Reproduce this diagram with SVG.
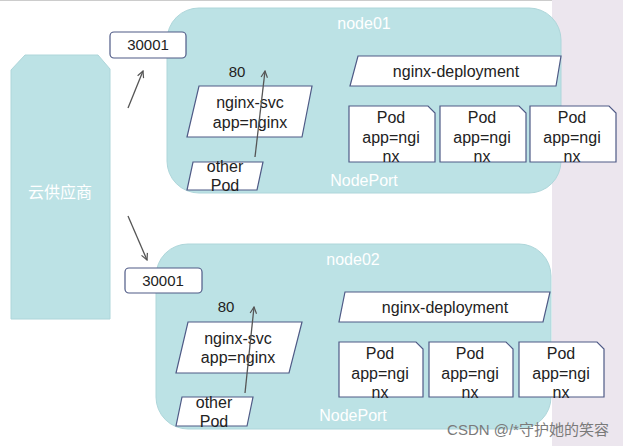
<svg xmlns="http://www.w3.org/2000/svg" width="623" height="446" viewBox="0 0 623 446">
<style>
text{font-family:"Liberation Sans",Arial,sans-serif;font-size:16px;fill:#222;text-anchor:middle}
.w{fill:#ffffff}
.node{fill:#bce2e5;stroke:#aed6da;stroke-width:1}
.shape{fill:#ffffff;stroke:#4f5a86;stroke-width:1.2}
.conn{stroke:#555;stroke-width:1.3;fill:none;marker-end:url(#ah)}
</style>
<defs>
<marker id="ah" viewBox="0 0 10 10" refX="9" refY="5" markerWidth="8" markerHeight="8" orient="auto" markerUnits="userSpaceOnUse">
<path d="M1,1 L9,5 L1,9" fill="none" stroke="#555" stroke-width="1.5"/>
</marker>
</defs>
<rect x="0" y="0" width="623" height="446" fill="#ffffff"/>
<rect x="552" y="0" width="71" height="446" fill="#ece6ee"/>
<line x1="0" y1="0.5" x2="552" y2="0.5" stroke="#cccccc" stroke-width="1"/>

<g id="cloud">
<polygon class="node" points="25,55 98,55 110,69 110,319 11,319 11,70"/>
<text class="w" x="60" y="198" style="font-family:'Liberation Sans','Noto Sans CJK SC',sans-serif">云供应商</text>
</g>

<g id="node01">
<rect class="node" x="167" y="8" width="394" height="185" rx="32"/>
<text class="w" x="364" y="29">node01</text>
<text class="w" x="364" y="186">NodePort</text>
</g>
<g id="port01">
<rect class="shape" x="110" y="32" width="76" height="26" rx="4"/>
<text x="148" y="50" style="font-size:15px">30001</text>
</g>
<g id="port80_01"><text x="237" y="77" style="font-size:15px">80</text></g>
<g id="svc01">
<polygon class="shape" points="199,86 312,86 302,137 187,137"/>
<text x="250" y="108">nginx-svc</text>
<text x="250" y="128">app=nginx</text>
</g>
<g id="other01">
<polygon class="shape" points="193,162 263,162 257,190 187,190"/>
<text x="225" y="172">other</text>
<text x="225" y="191">Pod</text>
</g>
<g id="deploy01">
<polygon class="shape" points="358,56 561,56 556,86 350,86"/>
<text x="456" y="77">nginx-deployment</text>
</g>
<g id="pod01a">
<path class="shape" d="M349,106 H428 L435,113 V162 H349 Z"/>
<text x="391" y="123">Pod</text><text x="391" y="143">app=ngi</text><text x="391" y="162">nx</text>
</g>
<g id="pod01b">
<path class="shape" d="M440,106 H519 L526,113 V162 H440 Z"/>
<text x="482" y="123">Pod</text><text x="482" y="143">app=ngi</text><text x="482" y="162">nx</text>
</g>
<g id="pod01c">
<path class="shape" d="M530,106 H609 L616,113 V162 H530 Z"/>
<text x="572" y="123">Pod</text><text x="572" y="143">app=ngi</text><text x="572" y="162">nx</text>
</g>

<g id="node02">
<rect class="node" x="156" y="244" width="395" height="185" rx="32"/>
<text class="w" x="353" y="265">node02</text>
<text class="w" x="353" y="421">NodePort</text>
</g>
<g id="port02">
<rect class="shape" x="125" y="268" width="77" height="25" rx="4"/>
<text x="163" y="286" style="font-size:15px">30001</text>
</g>
<g id="port80_02"><text x="226" y="312" style="font-size:15px">80</text></g>
<g id="svc02">
<polygon class="shape" points="188,322 302,322 289,373 176,373"/>
<text x="238" y="344">nginx-svc</text>
<text x="238" y="363">app=nginx</text>
</g>
<g id="other02">
<polygon class="shape" points="182,397 253,397 247,426 176,426"/>
<text x="214" y="408">other</text>
<text x="214" y="427">Pod</text>
</g>
<g id="deploy02">
<polygon class="shape" points="345,292 550,292 543,322 339,322"/>
<text x="445" y="313">nginx-deployment</text>
</g>
<g id="pod02a">
<path class="shape" d="M339,342 H416 L423,349 V397 H339 Z"/>
<text x="380" y="359">Pod</text><text x="380" y="379">app=ngi</text><text x="380" y="398">nx</text>
</g>
<g id="pod02b">
<path class="shape" d="M429,342 H506 L513,349 V397 H429 Z"/>
<text x="470" y="359">Pod</text><text x="470" y="379">app=ngi</text><text x="470" y="398">nx</text>
</g>
<g id="pod02c">
<path class="shape" d="M519,342 H597 L604,349 V397 H519 Z"/>
<text x="561" y="359">Pod</text><text x="561" y="379">app=ngi</text><text x="561" y="398">nx</text>
</g>

<g id="connectors">
<line class="conn" x1="128" y1="108" x2="143" y2="71"/>
<line class="conn" x1="255" y1="157" x2="265" y2="71"/>
<line class="conn" x1="128" y1="216" x2="147" y2="260"/>
<line class="conn" x1="245" y1="393" x2="254" y2="307"/>
</g>

<text x="528" y="435" style="font-family:'Liberation Sans','Noto Sans CJK SC',sans-serif;font-size:15px;fill:#7a7a7a">CSDN @/*守护她的笑容</text>
</svg>
